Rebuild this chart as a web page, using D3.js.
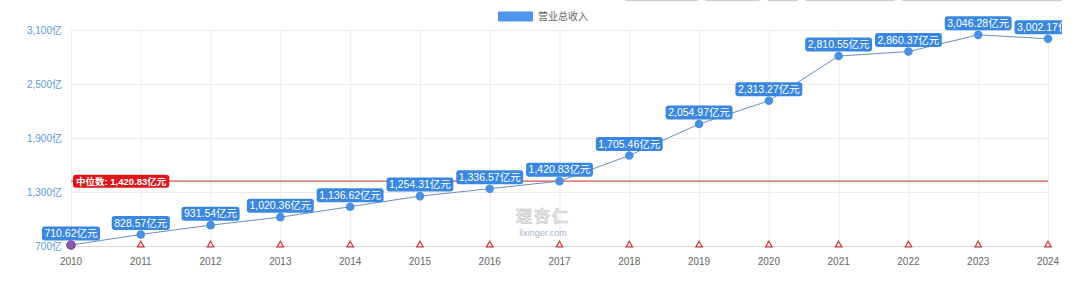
<!DOCTYPE html>
<html><head><meta charset="utf-8">
<script src="https://cdn.jsdelivr.net/npm/d3@7"></script>
<style>
html,body{margin:0;padding:0;background:#fff;}
svg{display:block;font-family:"Liberation Sans",Arial,"Noto Sans CJK SC",sans-serif;}
</style></head>
<body><svg id="c" width="1080" height="286"></svg>
<script>
const years = ["2010","2011","2012","2013","2014","2015","2016","2017","2018","2019","2020","2021","2022","2023","2024"];
const revenue = [710.62, 828.57, 931.54, 1020.36, 1136.62, 1254.31, 1336.57, 1420.83, 1705.46, 2054.97, 2313.27, 2810.55, 2860.37, 3046.28, 3002.17];
const yTicks = [700, 1300, 1900, 2500, 3100];
const median = 1420.83;
const seriesName = "营业总收入";

const svg = d3.select("#c");
const W = 1080, H = 286;
const pLeft = 71, pRight = 1048, pTop = 30, pBottom = 246;

const x = d3.scalePoint().domain(years).range([pLeft, pRight]);
const y = d3.scaleLinear().domain([700, 3100]).range([pBottom, pTop]);
const fmt = d3.format(",.2f");
const fmtT = d3.format(",");

// top cut-off buttons (UI chrome)
[[625,698],[705,760],[767,798],[805,895],[902,1062]].forEach(([a,b])=>{
  svg.append("rect").attr("x",a).attr("y",-8).attr("width",b-a).attr("height",8.7)
    .attr("rx",2).attr("fill","#f6f6f6").attr("stroke","#c4c4c4").attr("stroke-width",1);
});

const defs = svg.append("defs");
defs.append("clipPath").attr("id","clip").append("rect").attr("x",0).attr("y",0).attr("width",1062).attr("height",H);

const g = svg.append("g").attr("clip-path","url(#clip)");

// horizontal grid
g.append("g").selectAll("line").data(yTicks).join("line")
  .attr("x1",pLeft).attr("x2",pRight).attr("y1",d=>y(d)+0.5).attr("y2",d=>y(d)+0.5)
  .attr("stroke",d=>d===700?"#d9d9d9":"#ebebeb").attr("stroke-width",1);
// vertical grid
g.append("g").selectAll("line").data(years).join("line")
  .attr("x1",d=>x(d)+0.5).attr("x2",d=>x(d)+0.5).attr("y1",pTop).attr("y2",pBottom)
  .attr("stroke","#ebebeb").attr("stroke-width",1);

// y labels
g.append("g").selectAll("text").data(yTicks).join("text")
  .attr("x",62).attr("y",d=>y(d)).attr("dy","0.35em").attr("text-anchor","end")
  .attr("font-size",10).attr("fill","#5a9ad8").text(d=>fmtT(d)+"亿");
// x labels
g.append("g").selectAll("text").data(years).join("text")
  .attr("x",d=>x(d)).attr("y",265).attr("text-anchor","middle")
  .attr("font-size",10).attr("fill","#666").text(d=>d);

// watermark
g.append("text").attr("x",543).attr("y",222).attr("text-anchor","middle")
  .attr("font-size",16).attr("font-weight","bold").attr("fill","#e8e8e8")
  .attr("stroke","#c4c4c4").attr("stroke-width",0.6).attr("letter-spacing",2).text("理杏仁");
g.append("text").attr("x",543).attr("y",236).attr("text-anchor","middle")
  .attr("font-size",9).attr("fill","#9fb3c8").text("lixinger.com");

// median line
g.append("line").attr("x1",pLeft).attr("x2",pRight).attr("y1",y(median)).attr("y2",y(median))
  .attr("stroke","#d9534f").attr("stroke-width",1.2);

// red triangles on axis
const tri = d3.symbol().type(d3.symbolTriangle).size(18);
g.append("g").selectAll("path").data(years).join("path")
  .attr("d",tri).attr("transform",d=>`translate(${x(d)},${pBottom-1})`)
  .attr("fill","#fff").attr("stroke","#d0303a").attr("stroke-width",1.2);

// line
const line = d3.line().x((d,i)=>x(years[i])).y(d=>y(d));
g.append("path").datum(revenue).attr("d",line).attr("fill","none")
  .attr("stroke","#6b8fc0").attr("stroke-width",1);

// points
g.append("g").selectAll("circle").data(revenue).join("circle")
  .attr("cx",(d,i)=>x(years[i])).attr("cy",d=>y(d)).attr("r",4.3)
  .attr("fill",(d,i)=>i===0?"#8a5aa8":"#4a90e2").attr("stroke",(d,i)=>i===0?"#7b3f8f":"none");

// labels
const lg = g.append("g").selectAll("g").data(revenue).join("g")
  .attr("transform",(d,i)=>`translate(${x(years[i])},${y(d)-11.5})`);
lg.each(function(d){
  const s = d3.select(this);
  const t = s.append("text").attr("text-anchor","middle").attr("dy","0.36em")
    .attr("font-size",10.5).attr("fill","#fff").text(fmt(d)+"亿元");
  const w = t.node().getComputedTextLength()+5;
  s.insert("rect","text").attr("x",-w/2).attr("y",-7).attr("width",w).attr("height",14)
    .attr("rx",3).attr("fill","#3a87e2");
});

// median label
const ml = g.append("g").attr("transform",`translate(73,${y(median)})`);
const mt = ml.append("text").attr("x",3).attr("dy","0.36em").attr("font-size",9.5)
  .attr("font-weight","bold").attr("fill","#fff").text("中位数: "+fmt(median)+"亿元");
const mw = mt.node().getComputedTextLength()+6;
ml.insert("rect","text").attr("x",0).attr("y",-6.5).attr("width",mw).attr("height",13)
  .attr("rx",3).attr("fill","#e0161b");

// legend
svg.append("rect").attr("x",498).attr("y",11.5).attr("width",35).attr("height",10).attr("rx",1).attr("fill","#4f95ee");
svg.append("text").attr("x",538).attr("y",16.5).attr("dy","0.35em").attr("font-size",10)
  .attr("fill","#666").text(seriesName);
</script></body></html>
